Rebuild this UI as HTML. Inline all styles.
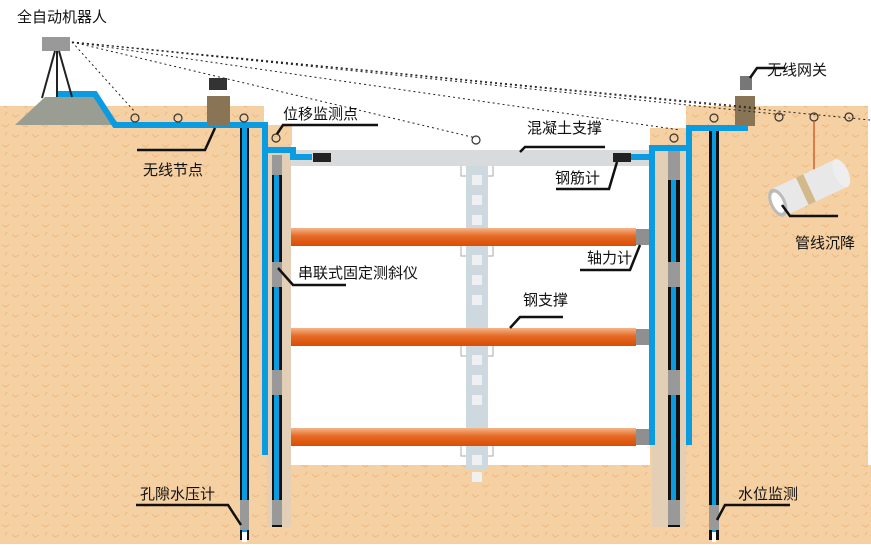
<!DOCTYPE html>
<html><head><meta charset="utf-8"><style>
html,body{margin:0;padding:0;background:#fff;}
svg text{font-family:"Liberation Sans","Noto Sans CJK SC",sans-serif;font-size:15px;fill:#111;}
</style></head><body>
<svg width="871" height="544" viewBox="0 0 871 544" xmlns="http://www.w3.org/2000/svg">
<defs>
<linearGradient id="or" x1="0" y1="0" x2="0" y2="1">
<stop offset="0" stop-color="#f4b68a"/><stop offset="0.45" stop-color="#e56a25"/><stop offset="1" stop-color="#d94c05"/>
</linearGradient>
<pattern id="soil" width="20" height="20" patternUnits="userSpaceOnUse">
<rect width="20" height="20" fill="#f4d0a2"/>
<path d="M2 5 l4 2 l3 -3 M12 14 l3 3 l4 -2 M5 15 l2 -3" stroke="#eab57c" stroke-width="0.8" fill="none"/>
</pattern>
</defs>
<rect x="0" y="106" width="264" height="438" fill="url(#soil)"/>
<rect x="262" y="125" width="30" height="419" fill="url(#soil)"/>
<rect x="0" y="465" width="871" height="79" fill="url(#soil)"/>
<rect x="650" y="128" width="40" height="416" fill="url(#soil)"/>
<rect x="686" y="106" width="182" height="438" fill="url(#soil)"/>
<rect x="291" y="145" width="359" height="320" fill="#fff"/>
<polygon points="15,125 45,97 95,97 120,125" fill="#9a9e92"/>
<rect x="267" y="145" width="24" height="382" fill="#e3cfb6"/>
<rect x="652" y="145" width="34" height="382" fill="#e3cfb6"/>
<rect x="291" y="150" width="359" height="16" fill="#d8dadb"/>
<rect x="466" y="166" width="22" height="304" fill="#cdd8df"/>
<g fill="#eef0f1">
<rect x="472" y="175" width="10" height="10"/><rect x="472" y="195" width="10" height="10"/><rect x="472" y="215" width="10" height="10"/>
<rect x="472" y="255" width="10" height="10"/><rect x="472" y="275" width="10" height="10"/><rect x="472" y="295" width="10" height="10"/>
<rect x="472" y="355" width="10" height="10"/><rect x="472" y="375" width="10" height="10"/><rect x="472" y="395" width="10" height="10"/>
<rect x="472" y="455" width="10" height="10"/><rect x="472" y="472" width="10" height="10"/>
</g>
<g stroke="#aaa" fill="none"><path d="M461 166 v10 h5 M493 166 v10 h-5 M461 246 v10 h5 M493 246 v10 h-5 M461 346 v10 h5 M493 346 v10 h-5 M461 446 v10 h5 M493 446 v10 h-5"/></g>
<rect x="291" y="228" width="345" height="18" fill="url(#or)"/><rect x="636" y="229" width="14" height="16" fill="#8f8f8f"/>
<rect x="291" y="328" width="345" height="18" fill="url(#or)"/><rect x="636" y="329" width="14" height="16" fill="#8f8f8f"/>
<rect x="291" y="428" width="345" height="18" fill="url(#or)"/><rect x="636" y="429" width="14" height="16" fill="#8f8f8f"/>
<rect x="240" y="125" width="9" height="415" fill="#111"/><rect x="242" y="125" width="5" height="410" fill="#0a9be0"/>
<rect x="240" y="500" width="9" height="30" fill="#999"/><rect x="242" y="532" width="5" height="10" fill="#fff"/>
<rect x="272" y="155" width="10" height="372" fill="#111"/><rect x="274" y="170" width="5" height="330" fill="#0a9be0"/>
<rect x="272" y="155" width="10" height="20" fill="#999"/><rect x="272" y="262" width="10" height="25" fill="#999"/><rect x="272" y="370" width="10" height="25" fill="#999"/><rect x="272" y="500" width="10" height="25" fill="#999"/>
<rect x="668" y="150" width="12" height="377" fill="#111"/><rect x="671" y="170" width="5" height="330" fill="#0a9be0"/>
<rect x="668" y="150" width="12" height="30" fill="#999"/><rect x="668" y="262" width="12" height="25" fill="#999"/><rect x="668" y="370" width="12" height="25" fill="#999"/><rect x="668" y="500" width="12" height="25" fill="#999"/>
<rect x="709" y="125" width="10" height="415" fill="#111"/><rect x="712" y="125" width="4" height="410" fill="#0a9be0"/>
<rect x="709" y="505" width="10" height="25" fill="#999"/><rect x="712" y="532" width="4" height="10" fill="#fff"/>
<g stroke="#0a9be0" fill="none" stroke-width="6">
<path d="M58 94 H95 L115 125 H265 V455"/>
<path d="M265 150 H293 V157 H312"/>
<path d="M652 150 V445"/>
<path d="M630 157 H652 V148 H689 V128 H748"/>
<path d="M689 128 V445"/>
</g>
<rect x="313" y="153" width="18" height="9" fill="#222"/><rect x="613" y="153" width="18" height="9" fill="#222"/>
<rect x="42" y="37" width="28" height="14" fill="#999"/>
<path d="M55 51 L42 98 M57 51 V97 M59 51 L72 97" stroke="#222" stroke-width="2"/>
<rect x="207" y="96" width="23" height="30" fill="#8a7456"/>
<rect x="209" y="78" width="18" height="12" fill="#333"/>
<rect x="735" y="96" width="20" height="30" fill="#8a7456"/>
<rect x="740" y="76" width="12" height="14" fill="#777"/>
<g stroke="#222" stroke-dasharray="2,3" fill="none">
<path d="M72 42 L135 112"/><path d="M72 42 L870 120"/><path d="M72 42 L760 108"/><path d="M72 42 L476 138"/><path d="M72 42 L680 130"/><path d="M72 42 L785 115"/>
</g>
<g fill="none" stroke="#333" stroke-width="1.2">
<circle cx="135" cy="118" r="4"/><circle cx="178" cy="118" r="4"/><circle cx="244" cy="118" r="4"/><circle cx="276" cy="138" r="4"/>
<circle cx="476" cy="140" r="4"/><circle cx="674" cy="138" r="4"/><circle cx="714" cy="118" r="4"/>
<circle cx="779" cy="117" r="4"/><circle cx="814" cy="117" r="4"/><circle cx="849" cy="117" r="4"/>
</g>
<path d="M814 121 V200" stroke="#d4602a" stroke-width="1.5"/>
<g transform="rotate(-25 805 190)">
<rect x="775" y="175" width="70" height="30" fill="#e8e8e8"/>
<rect x="802" y="175" width="8" height="30" fill="#d3b88a"/>
<ellipse cx="845" cy="190" rx="7" ry="15" fill="#eee"/>
<ellipse cx="775" cy="190" rx="8" ry="15" fill="#bbb"/>
<ellipse cx="775" cy="190" rx="5" ry="11" fill="#fff"/>
</g>
<g stroke="#111" stroke-width="2.5" fill="none">
<path d="M137 150 H205 L215 128"/>
<path d="M378 125 H283 L277 134"/>
<path d="M520 152 L525 147 H605"/>
<path d="M556 189 H609 L617 162"/>
<path d="M346 285 H293 L278 268"/>
<path d="M580 270 H630 L640 245"/>
<path d="M510 328 L520 317 H563"/>
<path d="M785 68 H757 L750 78"/>
<path d="M838 216 H790 L782 205"/>
<path d="M136 505 H228 L241 525"/>
<path d="M790 505 H725 L717 520"/>
</g>
<text x="17" y="22">全自动机器人</text>
<text x="143" y="175">无线节点</text>
<text x="283" y="119">位移监测点</text>
<text x="527" y="133">混凝土支撑</text>
<text x="555" y="183">钢筋计</text>
<text x="298" y="278">串联式固定测斜仪</text>
<text x="587" y="263">轴力计</text>
<text x="523" y="305">钢支撑</text>
<text x="767" y="75">无线网关</text>
<text x="795" y="248">管线沉降</text>
<text x="140" y="499">孔隙水压计</text>
<text x="738" y="499">水位监测</text>
</svg>
</body></html>
